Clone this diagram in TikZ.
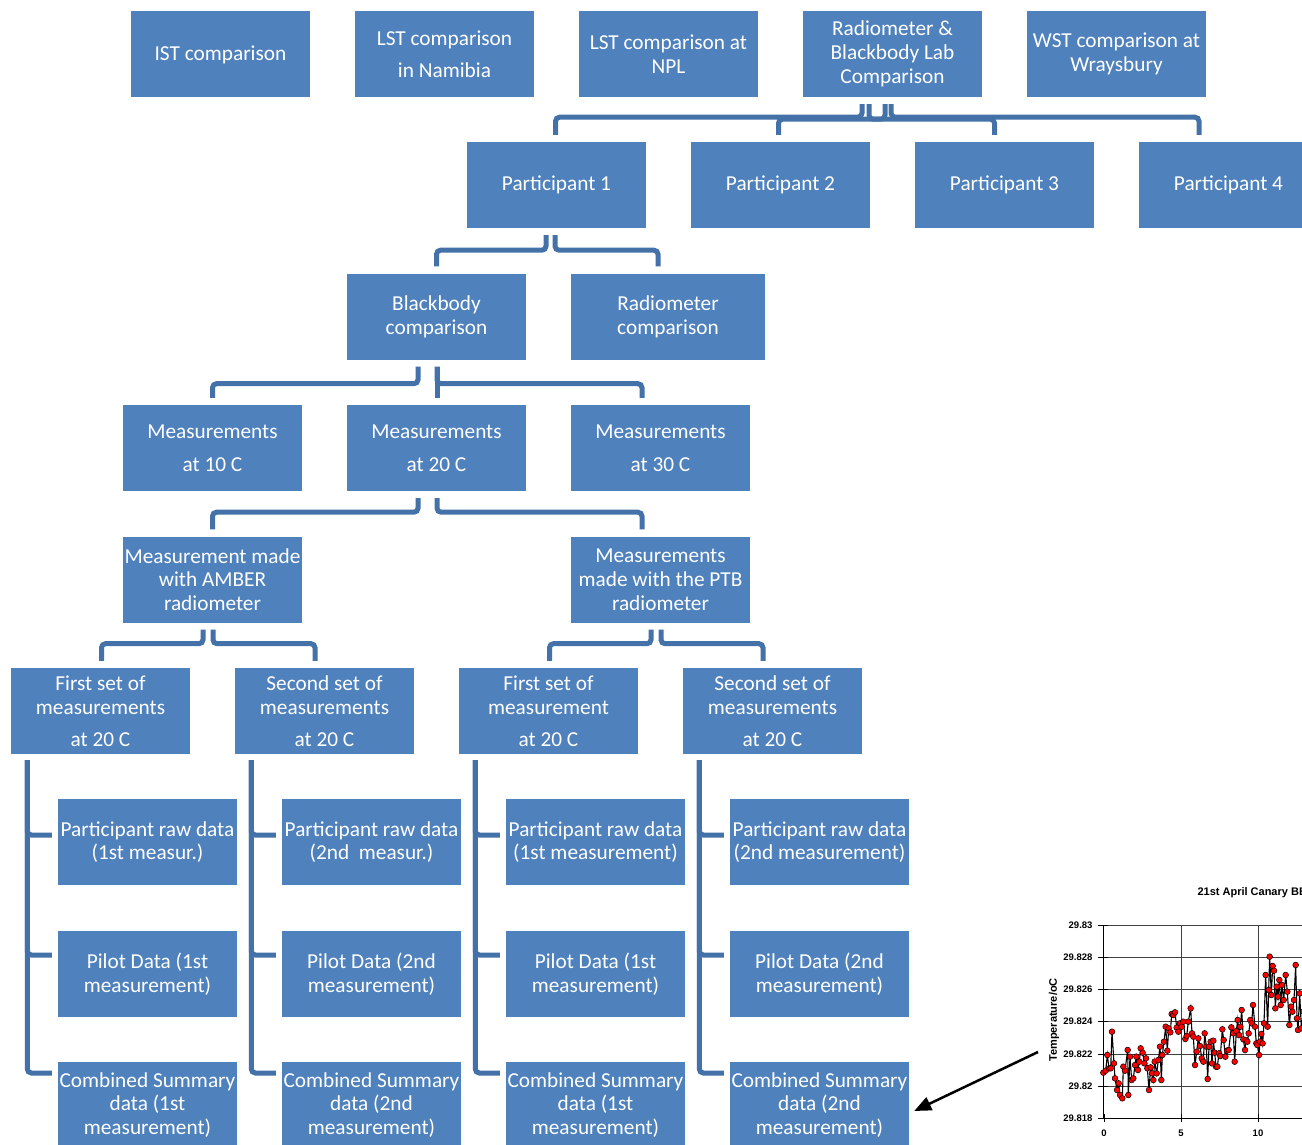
\documentclass[tikz,border=0pt]{standalone}
\usepackage{fontspec}
\setmainfont{Carlito}
\newfontfamily\chartfont{Liberation Sans}
\usetikzlibrary{arrows.meta}
\definecolor{boxblue}{RGB}{79,129,189}
\definecolor{connblue}{RGB}{68,114,168}
\begin{document}
\begin{tikzpicture}[x=1pt,y=-1pt,
  box/.style={fill=boxblue, text=white, minimum width=179pt, minimum height=86pt,
    inner sep=0pt, align=center, font=\fontsize{21.3}{23.8}\selectfont},
  conn/.style={draw=connblue, line width=5pt, rounded corners=4pt},
  gridc/.style={draw=black!75, line width=0.7pt},
  arrowline/.style={draw=black, line width=2.5pt, -{Triangle[length=17pt,width=14pt]}},
  chartlbl/.style={font=\chartfont\bfseries\fontsize{9.5}{11}\selectfont},
  charttitle/.style={font=\chartfont\bfseries\fontsize{11}{13}\selectfont}]
\clip (0,0) rectangle (1302,1145);
\fill[white] (0,0) rectangle (1302,1145);

% Row 1
\node[box] (ist) at (220.5,54.5) {IST comparison};
\node[box] (lstn) at (444.5,54) {LST comparison\\[8.5pt]in Namibia};
\node[box] (lstnpl) at (668.5,54) {LST comparison at\\NPL};
\node[box] (rad) at (892.5,54) {Radiometer \&\\Blackbody Lab\\Comparison};
\node[box] (wst) at (1116.5,54) {WST comparison at\\Wraysbury};
% Row 2
\node[box] (p1) at (556.5,185) {Participant 1};
\node[box] (p2) at (780.5,185) {Participant 2};
\node[box] (p3) at (1004.5,185) {Participant 3};
\node[box] (p4) at (1228.5,185) {Participant 4};
% Row 3
\node[box] (bb) at (436.5,316.5) {Blackbody\\comparison};
\node[box, minimum width=194pt] (radc) at (668,316.5) {Radiometer\\comparison};
% Row 4
\node[box] (m10) at (212.5,448) {Measurements\\[9pt]at 10 C};
\node[box] (m20) at (436.5,448) {Measurements\\[9pt]at 20 C};
\node[box] (m30) at (660.5,448) {Measurements\\[9pt]at 30 C};
% Row 5
\node[box] (amber) at (212.5,579.5) {Measurement made\\with AMBER\\radiometer};
\node[box] (ptb) at (660.5,579.5) {Measurements\\made with the PTB\\radiometer};
% Row 6
\node[box] (f1) at (100.5,711) {First set of\\measurements\\[8pt]at 20 C};
\node[box] (s1) at (324.5,711) {Second set of\\measurements\\[8pt]at 20 C};
\node[box] (f2) at (548.5,711) {First set of\\measurement\\[8pt]at 20 C};
\node[box] (s2) at (772.5,711) {Second set of\\measurements\\[8pt]at 20 C};
% Row 7
\node[box] (r1) at (147.5,842) {Participant raw data\\(1st measur.)};
\node[box] (r2) at (371.5,842) {Participant raw data\\(2nd\ \ measur.)};
\node[box] (r3) at (595.5,842) {Participant raw data\\(1st measurement)};
\node[box] (r4) at (819.5,842) {Participant raw data\\(2nd measurement)};
% Row 8
\node[box] (pl1) at (147.5,974) {Pilot Data (1st\\measurement)};
\node[box] (pl2) at (371.5,974) {Pilot Data (2nd\\measurement)};
\node[box] (pl3) at (595.5,974) {Pilot Data (1st\\measurement)};
\node[box] (pl4) at (819.5,974) {Pilot Data (2nd\\measurement)};
% Row 9
\node[box] (cs1) at (147.5,1105) {Combined Summary\\data (1st\\measurement)};
\node[box] (cs2) at (371.5,1105) {Combined Summary\\data (2nd\\measurement)};
\node[box] (cs3) at (595.5,1105) {Combined Summary\\data (1st\\measurement)};
\node[box] (cs4) at (819.5,1105) {Combined Summary\\data (2nd\\measurement)};

% Connectors: top
\draw[conn] ([xshift=-30.5pt,yshift=-7pt]rad.south) -- ++(0,13) -| ([xshift=-1pt,yshift=7pt]p1.north);
\draw[conn] ([xshift=-7.5pt,yshift=-7pt]rad.south) -- ++(0,15) -| ([xshift=-2pt,yshift=7pt]p2.north);
\draw[conn] ([xshift=-23.5pt,yshift=-7pt]rad.south) -- ++(0,15) -| ([xshift=-10pt,yshift=7pt]p3.north);
\draw[conn] ([xshift=-1.5pt,yshift=-7pt]rad.south) -- ++(0,13) -| ([xshift=-29.5pt,yshift=7pt]p4.north);
% P1 -> row 3
\draw[conn] ([xshift=-10.5pt,yshift=-7pt]p1.south) -- ++(0,15) -| ([yshift=7pt]bb.north);
\draw[conn] ([xshift=-1.5pt,yshift=-7pt]p1.south) -- ++(0,15) -| ([xshift=-10pt,yshift=7pt]radc.north);
% Blackbody -> row 4
\draw[conn] ([xshift=-18.5pt,yshift=-7pt]bb.south) -- ++(0,17) -| ([yshift=7pt]m10.north);
\draw[conn] ([xshift=0.5pt,yshift=-7pt]bb.south) -- ([xshift=0.5pt,yshift=7pt]m20.north);
\draw[conn] ([xshift=0.5pt,yshift=-7pt]bb.south) -- ++(0,17) -| ([xshift=-18.5pt,yshift=7pt]m30.north);
% 20 C -> row 5
\draw[conn] ([xshift=-18.5pt,yshift=-7pt]m20.south) -- ++(0,14) -| ([yshift=7pt]amber.north);
\draw[conn] ([xshift=0.5pt,yshift=-7pt]m20.south) -- ++(0,14) -| ([xshift=-18.5pt,yshift=7pt]ptb.north);
% row 5 -> row 6
\draw[conn] ([xshift=-9.5pt,yshift=-7pt]amber.south) -- ++(0,14) -| ([xshift=1pt,yshift=7pt]f1.north);
\draw[conn] ([xshift=0.5pt,yshift=-7pt]amber.south) -- ++(0,14) -| ([xshift=-9.5pt,yshift=7pt]s1.north);
\draw[conn] ([xshift=-9.5pt,yshift=-7pt]ptb.south) -- ++(0,14) -| ([xshift=1pt,yshift=7pt]f2.north);
\draw[conn] ([xshift=0.5pt,yshift=-7pt]ptb.south) -- ++(0,14) -| ([xshift=-9.5pt,yshift=7pt]s2.north);
% row 6 -> rows 7-9
\foreach \top/\ra/\pb/\cc in {f1/r1/pl1/cs1, s1/r2/pl2/cs2, f2/r3/pl3/cs3, s2/r4/pl4/cs4}{
  \draw[conn] ([xshift=16.5pt,yshift=-6pt]\top.south west) |- ([xshift=-6pt,yshift=7pt]\ra.west);
  \draw[conn] ([xshift=16.5pt,yshift=-6pt]\top.south west) |- ([xshift=-6pt,yshift=19pt]\pb.west);
  \draw[conn] ([xshift=16.5pt,yshift=-6pt]\top.south west) |- ([xshift=-6pt,yshift=32pt]\cc.west);
}

% Chart
\foreach \yy in {925,957.3,989.5,1021.7,1054,1086.2,1118.3}{
  \draw[gridc] (1103,\yy) -- (1310,\yy);
  \draw[black, line width=0.8pt] (1098,\yy) -- (1108,\yy);
}
\draw[gridc] (1181,925) -- (1181,1118.3);
\draw[gridc] (1258,925) -- (1258,1118.3);
\draw[black, line width=0.9pt] (1103.5,925) -- (1103.5,1118.3) -- (1310,1118.3);
\foreach \xx in {1104,1181,1258}{
  \draw[black, line width=0.8pt] (\xx,1114) -- (\xx,1122);
}
\node[chartlbl, anchor=east] (yl1) at (1096,925) {29.83};
\node[chartlbl, anchor=east] (yl2) at (1096,957.3) {29.828};
\node[chartlbl, anchor=east] (yl3) at (1096,989.5) {29.826};
\node[chartlbl, anchor=east] (yl4) at (1096,1021.7) {29.824};
\node[chartlbl, anchor=east] (yl5) at (1096,1054) {29.822};
\node[chartlbl, anchor=east] (yl6) at (1096,1086.2) {29.82};
\node[chartlbl, anchor=east] (yl7) at (1096,1118.3) {29.818};
\node[chartlbl] (xl0) at (1104,1133) {0};
\node[chartlbl] (xl5) at (1181,1133) {5};
\node[chartlbl] (xl10) at (1258,1133) {10};
\node[charttitle, anchor=west] (ctitle) at (1194,893) {21st April Canary BB};
\node[charttitle, rotate=90] (ylabel) at (1054,1020) {Temperature/oC};

\begin{scope}[xshift=1040pt, yshift=-880pt, x=0.33333pt, y=-0.33333pt]
\draw[black, line width=1.1pt] plot[mark=*, mark size=2.9pt, mark options={fill=red, draw=black, line width=0.5pt}] coordinates {
(190,578) (197,572) (202,525) (207,565) (212,565) (216,455) (222,550) (225,595) (231,630) (236,610) (240,645) (247,655) (250,560) (255,572) (263,510) (265,645) (270,530) (275,600) (280,595) (285,555) (289,530) (294,570) (298,545) (302,505) (308,518) (313,550) (318,535) (322,565) (327,630) (332,562) (336,580) (340,600) (344,545) (350,580) (355,540) (360,500) (364,600) (367,525) (372,485) (377,440) (382,512) (386,445) (391,457) (395,402) (400,405) (405,397) (410,443) (415,455) (420,430) (425,440) (430,425) (436,477) (440,468) (445,425) (452,385) (456,460) (460,470) (465,555) (470,515) (475,475) (480,498) (485,535) (490,545) (494,460) (499,500) (503,597) (507,500) (512,485) (516,550) (520,482) (524,518) (528,560) (532,560) (537,520) (541,528) (547,448) (551,480) (556,530) (561,512) (566,510) (574,442) (580,460) (584,545) (589,453) (593,420) (597,465) (601,440) (605,390) (610,478) (615,510) (618,480) (622,485) (626,460) (631,420) (635,430) (639,375) (645,440) (649,490) (652,495) (657,525) (660,485) (664,462) (668,490) (672,430) (677,285) (683,440) (686,330) (689,230) (694,345) (698,258) (702,272) (706,385) (710,320) (714,350) (718,300) (722,375) (726,315) (731,360) (737,285) (742,335) (748,435) (753,380) (757,395) (762,360) (767,255) (771,415) (774,450) (779,340) (784,445) (790,395) (796,420)};
\end{scope}

% Arrow
\coordinate (arrstart) at (1038,1052);
\draw[arrowline] (arrstart) -- ([xshift=5pt,yshift=-6pt]cs4.east);
\end{tikzpicture}
\end{document}
